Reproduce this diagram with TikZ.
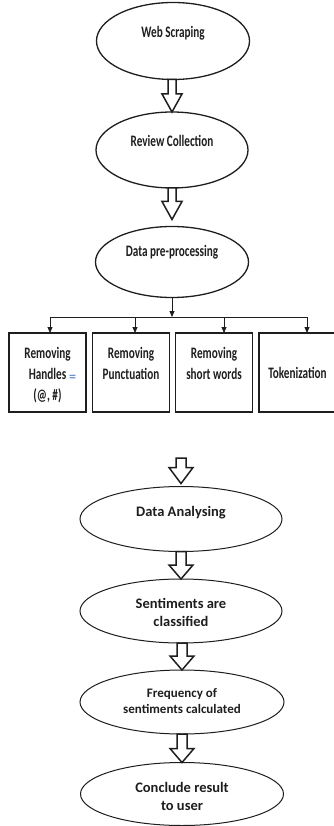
\documentclass[tikz,border=0pt]{standalone}
\usepackage{fontspec}
\setmainfont{Carlito}
\newfontfamily\narrowfont{Carlito}[FakeStretch=0.7]
\usetikzlibrary{calc,shapes.geometric,arrows.meta}

\definecolor{ink}{HTML}{1E1E1E}
\definecolor{markblue}{HTML}{6A8FD4}

\tikzset{
  stage/.style={ellipse, draw=ink, fill=white, inner sep=0pt, outer sep=0pt},
  topstage/.style={stage, line width=1.3pt},
  lowstage/.style={stage, line width=1pt},
  toptext/.style={font=\narrowfont\bfseries\fontsize{16}{21}\selectfont,
                  text=ink, align=center, inner sep=0pt},
  lowtext/.style={font=\bfseries\fontsize{14.5}{18}\selectfont,
                  text=ink, align=center, inner sep=0pt},
  stepbox/.style={draw=ink, line width=1.4pt, minimum width=77pt,
                  minimum height=79pt, inner sep=0pt, outer sep=0pt},
  hollowarrow/.style={draw=ink, fill=white, line width=1.5pt, line join=miter},
  branch/.style={draw=ink, line width=0.8pt},
  branchtip/.style={branch, -{Triangle[length=6pt,width=5pt]}},
}

% hollow block arrow: #1 tail point, #2 tip point, #3 half shaft width,
% #4 half head width, #5 head length
\newcommand{\flowarrow}[5]{%
  \draw[hollowarrow] let \p1=(#1), \p2=(#2) in
    (\x2-#3,\y1) -- (\x2-#3,\y2+#5) -- (\x2-#4,\y2+#5) -- (\x2,\y2)
    -- (\x2+#4,\y2+#5) -- (\x2+#3,\y2+#5) -- (\x2+#3,\y1) -- cycle;}

\begin{document}
\begin{tikzpicture}[x=1pt,y=-1pt]
\useasboundingbox (0,0) rectangle (334,826);

% upper pipeline
\node[topstage, minimum width=153pt, minimum height=77pt] (ws) at (173,41) {};
\node[toptext] (wst) at (173,33) {Web Scraping};

\node[topstage, minimum width=152pt, minimum height=76pt] (rc) at (172,150) {};
\node[toptext] (rct) at (172,141) {Review Collection};

\node[topstage, minimum width=153pt, minimum height=71pt] (dp) at (172,262) {};
\node[toptext] (dpt) at (172,252) {Data pre-processing};

% pre-processing steps
\node[stepbox] (b1) at (47.5,372.5) {};
\node[stepbox] (b2) at (131,372.5) {};
\node[stepbox] (b3) at (214,372.5) {};
\node[stepbox] (b4) at (297.5,372.5) {};

\node[toptext] (b1t) at (47.5,375) {Removing\\Handles\\(@, \#)};
\node[font=\bfseries\fontsize{14}{14}\selectfont, text=markblue, inner sep=0pt] (b1m) at (72.5,378) {=};
\node[toptext] (b2t) at (131,363) {Removing\\Punctuation};
\node[toptext] (b3t) at (214,363) {Removing\\short words};
\node[toptext] (b4t) at (297.5,373) {Tokenization};

% branching connectors
\coordinate (d1) at (50,317);
\coordinate (d2) at (135,317);
\coordinate (d3) at (224,317);
\coordinate (d4) at (307,317);
\draw[branchtip] (dp.south) -- (dp.south |- d1);
\draw[branch] (d1) -- (d4);
\draw[branchtip] (d1) -- (d1 |- b1.north);
\draw[branchtip] (d2) -- (d2 |- b2.north);
\draw[branchtip] (d3) -- (d3 |- b3.north);
\draw[branchtip] (d4) -- (d4 |- b4.north);

% lower pipeline
\node[lowstage, minimum width=202pt, minimum height=65pt] (da) at (181,519) {};
\node[lowtext] (dat) at (181,513) {Data Analysing};

\node[lowstage, minimum width=202pt, minimum height=64pt] (sc) at (181,611) {};
\node[lowtext] (sct) at (181,612) {Sentiments are\\classified};

\node[lowstage, minimum width=204pt, minimum height=64pt] (fq) at (182,702) {};
\node[lowtext, font=\bfseries\fontsize{13}{16}\selectfont] (fqt) at (182,701)
  {Frequency of\\sentiments calculated};

\node[lowstage, minimum width=203pt, minimum height=63pt] (cr) at (182,794) {};
\node[lowtext] (crt) at (182,796) {Conclude result\\to user};

% block arrows
\flowarrow{ws.south}{rc.north}{4pt}{10pt}{18pt}
\flowarrow{rc.south}{[yshift=7pt]dp.north}{4pt}{10pt}{18pt}
\coordinate (gap) at (181,458);
\flowarrow{gap}{[yshift=3pt]da.north}{5pt}{12pt}{16pt}
\flowarrow{da.south}{sc.north}{5pt}{12pt}{14pt}
\flowarrow{sc.south}{fq.north}{5pt}{12pt}{14pt}
\flowarrow{fq.south}{cr.north}{5pt}{12pt}{14pt}
\end{tikzpicture}
\end{document}
